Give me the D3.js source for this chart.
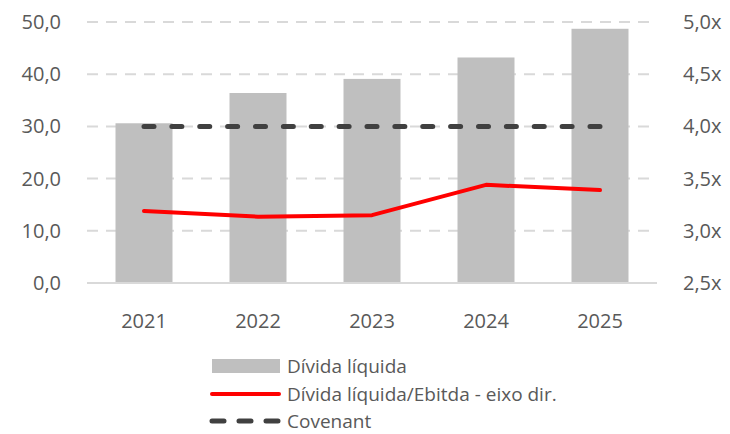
<!DOCTYPE html>
<html>
<head>
<meta charset="utf-8">
<script src="https://cdn.jsdelivr.net/npm/d3@7"></script>
<style>
  body { margin: 0; background: #fff; }
  svg text { font-family: "Open Sans", "Noto Sans", sans-serif; fill: #595959; }
</style>
</head>
<body>
<svg width="730" height="434"></svg>
<script>
var years = ["2021", "2022", "2023", "2024", "2025"];
var dividaLiquida = [30.6, 36.4, 39.1, 43.2, 48.7];
var alavancagem = [3.19, 3.135, 3.15, 3.44, 3.39];
var covenant = [4.0, 4.0, 4.0, 4.0, 4.0];
var leftTicks = [0, 10, 20, 30, 40, 50];
var rightTicks = [2.5, 3.0, 3.5, 4.0, 4.5, 5.0];
var legendLabels = ["Dívida líquida", "Dívida líquida/Ebitda - eixo dir.", "Covenant"];

let svg = d3.select("svg");
let plotLeft = 87, plotRight = 657, plotTop = 22, plotBottom = 283;

let x = d3.scaleBand().domain(years).range([plotLeft, plotRight])
    .paddingInner(0.5).paddingOuter(0.25);
let yL = d3.scaleLinear().domain([0, 50]).range([plotBottom, plotTop]);
let yR = d3.scaleLinear().domain([2.5, 5.0]).range([plotBottom, plotTop]);
let fmt = d3.format(".1f");

// gridlines
svg.append("g").selectAll("line")
    .data(leftTicks.filter(d => d > 0))
    .enter().append("line")
    .attr("x1", plotLeft).attr("x2", plotRight)
    .attr("y1", d => yL(d)).attr("y2", d => yL(d))
    .attr("stroke", "#d9d9d9").attr("stroke-width", 2)
    .attr("stroke-dasharray", "11,8");

// bars
svg.append("g").selectAll("rect")
    .data(dividaLiquida)
    .enter().append("rect")
    .attr("x", (d, i) => x(years[i]))
    .attr("width", x.bandwidth())
    .attr("y", d => yL(d))
    .attr("height", d => yL(0) - yL(d))
    .attr("fill", "#bfbfbf");

// baseline
svg.append("line")
    .attr("x1", plotLeft).attr("x2", plotRight)
    .attr("y1", yL(0)).attr("y2", yL(0))
    .attr("stroke", "#d9d9d9").attr("stroke-width", 2);

let cx = (d, i) => x(years[i]) + x.bandwidth() / 2;

// covenant: dash period chosen so the line ends on a dash
let covLen = cx(null, years.length - 1) - cx(null, 0);
let period = (covLen - 10) / 16;
svg.append("path")
    .datum(covenant)
    .attr("d", d3.line().x(cx).y(d => yR(d)))
    .attr("fill", "none")
    .attr("stroke", "#404040").attr("stroke-width", 5)
    .attr("stroke-linecap", "round")
    .attr("stroke-dasharray", "10," + (period - 10));

// red line
svg.append("path")
    .datum(alavancagem)
    .attr("d", d3.line().x(cx).y(d => yR(d)))
    .attr("fill", "none")
    .attr("stroke", "#ff0000").attr("stroke-width", 4)
    .attr("stroke-linecap", "round")
    .attr("stroke-linejoin", "round");

// left axis labels
svg.append("g").selectAll("text")
    .data(leftTicks)
    .enter().append("text")
    .attr("x", 61).attr("y", d => yL(d))
    .attr("dy", "0.35em")
    .attr("text-anchor", "end")
    .attr("font-size", 20)
    .text(d => fmt(d).replace(".", ","));

// right axis labels
svg.append("g").selectAll("text")
    .data(rightTicks)
    .enter().append("text")
    .attr("x", 683).attr("y", d => yR(d))
    .attr("dy", "0.35em")
    .attr("font-size", 20)
    .text(d => fmt(d).replace(".", ",") + "x");

// x labels
svg.append("g").selectAll("text")
    .data(years)
    .enter().append("text")
    .attr("x", d => x(d) + x.bandwidth() / 2)
    .attr("y", 321)
    .attr("dy", "0.35em")
    .attr("text-anchor", "middle")
    .attr("font-size", 20)
    .text(d => d);

// legend
let lg = svg.append("g");
let rows = [366, 394, 421];
lg.append("rect").attr("x", 212).attr("y", rows[0] - 7).attr("width", 68).attr("height", 14).attr("fill", "#bfbfbf");
lg.append("line").attr("x1", 212).attr("x2", 279).attr("y1", rows[1]).attr("y2", rows[1])
    .attr("stroke", "#ff0000").attr("stroke-width", 4).attr("stroke-linecap", "round");
lg.append("line").attr("x1", 212).attr("x2", 278).attr("y1", rows[2]).attr("y2", rows[2])
    .attr("stroke", "#404040").attr("stroke-width", 5).attr("stroke-linecap", "round")
    .attr("stroke-dasharray", "12,15");
lg.selectAll("text")
    .data(legendLabels)
    .enter().append("text")
    .attr("x", 287).attr("y", (d, i) => rows[i])
    .attr("dy", "0.35em")
    .attr("font-size", 19)
    .text(d => d);
</script>
</body>
</html>
